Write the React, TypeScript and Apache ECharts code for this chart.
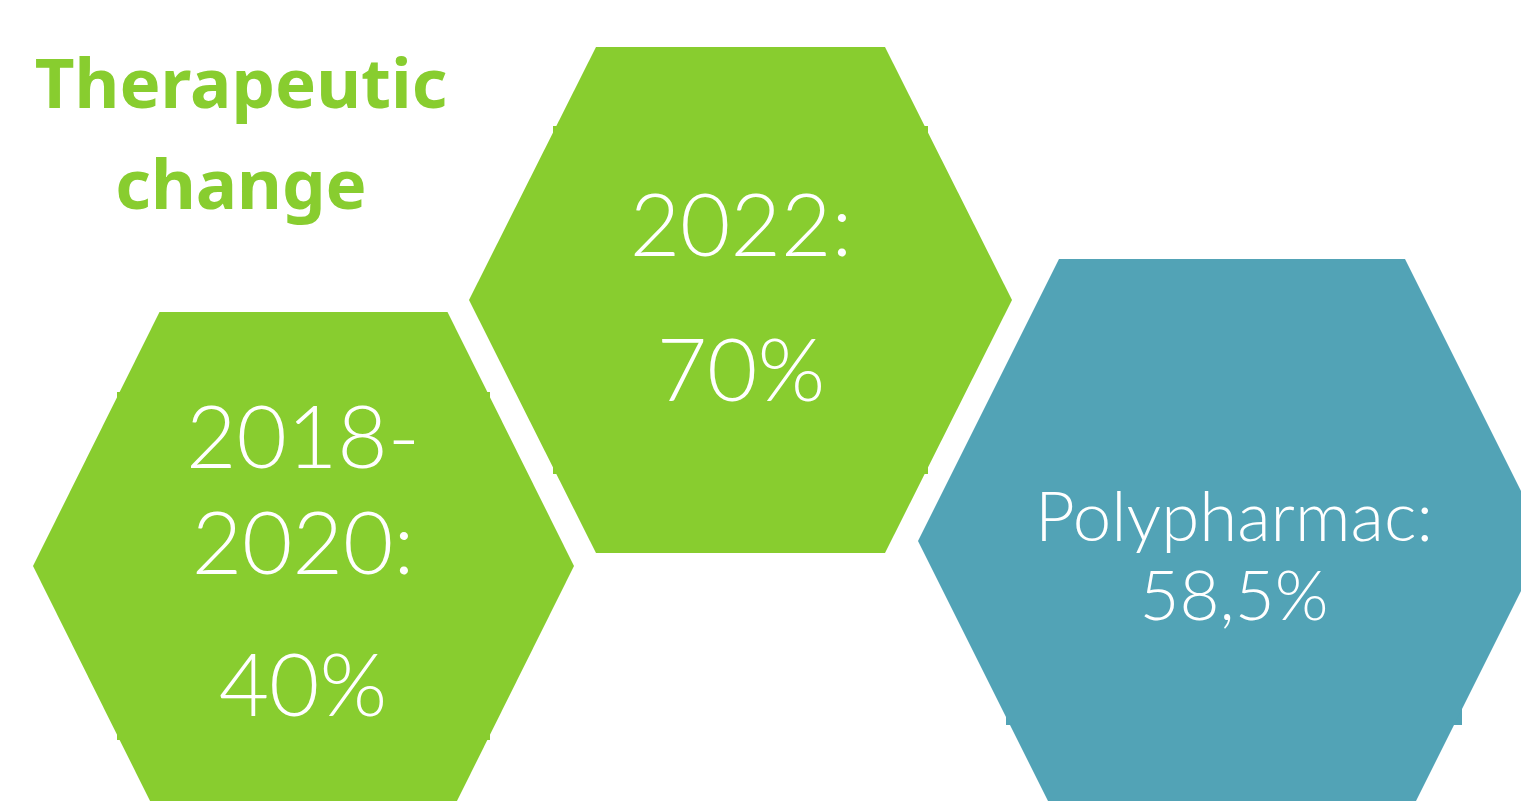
import React, { useEffect, useRef } from "react";
import * as echarts from "echarts";

const titleLines = ["Therapeutic", "change"];
const leftLines = ["2018-", "2020:", "40%"];
const middleLines = ["2022:", "70%"];
const rightLines = ["Polypharmac:", "58,5%"];

const GREEN = "#88CD2F";
const TEAL = "#52A3B6";
const FONT = "Lato, 'Noto Sans', sans-serif";
const TITLE_FONT = "'Noto Sans', sans-serif";

function hexPoints(cx: number, cy: number, hw: number, ht: number, hh: number) {
  return [
    [cx - ht, cy - hh],
    [cx + ht, cy - hh],
    [cx + hw, cy],
    [cx + ht, cy + hh],
    [cx - ht, cy + hh],
    [cx - hw, cy],
  ];
}

function hexagon(cx: number, cy: number, hw: number, ht: number, hh: number, rect: number[], color: string) {
  return [
    { type: "rect", shape: { x: rect[0], y: rect[1], width: rect[2] - rect[0], height: rect[3] - rect[1] }, style: { fill: color } },
    { type: "polygon", shape: { points: hexPoints(cx, cy, hw, ht, hh) }, style: { fill: color } },
  ];
}

function textLine(t: string, x: number, y: number, size: number, color: string, weight: string | number, family = FONT) {
  return {
    type: "text",
    z: 10,
    style: {
      text: t,
      x,
      y,
      align: "center",
      verticalAlign: "middle",
      fill: color,
      font: `${weight} ${size}px ${family}`,
    },
  };
}

export default function App() {
  const ref = useRef<HTMLDivElement>(null);
  useEffect(() => {
    if (!ref.current) return;
    const chart = echarts.init(ref.current, undefined, { renderer: "svg" });
    const elements: any[] = [
      ...hexagon(303.5, 566, 270.5, 144, 254, [117, 392, 490, 740], GREEN),
      ...hexagon(740.5, 300, 271.5, 144.5, 253, [553, 126, 928, 474], GREEN),
      ...hexagon(1232, 541, 314, 173, 282, [1006, 400, 1462, 725], TEAL),
      textLine(titleLines[0], 241, 81, 69, GREEN, "bold", TITLE_FONT),
      textLine(titleLines[1], 241, 182, 69, GREEN, "bold", TITLE_FONT),
      textLine(leftLines[0], 303, 434, 87, "#ffffff", 300),
      textLine(leftLines[1], 303, 540, 87, "#ffffff", 300),
      textLine(leftLines[2], 303, 682, 87, "#ffffff", 300),
      textLine(middleLines[0], 741, 222, 87, "#ffffff", 300),
      textLine(middleLines[1], 741, 367, 87, "#ffffff", 300),
      textLine(rightLines[0], 1234, 514, 69, "#ffffff", 300),
      textLine(rightLines[1], 1234, 593, 69, "#ffffff", 300),
    ];
    chart.setOption({
      animation: false,
      backgroundColor: "#ffffff",
      graphic: { elements },
    });
    return () => chart.dispose();
  }, []);
  return <div ref={ref} style={{ position: "absolute", left: 0, top: 0, width: 1521, height: 801 }} />;
}
